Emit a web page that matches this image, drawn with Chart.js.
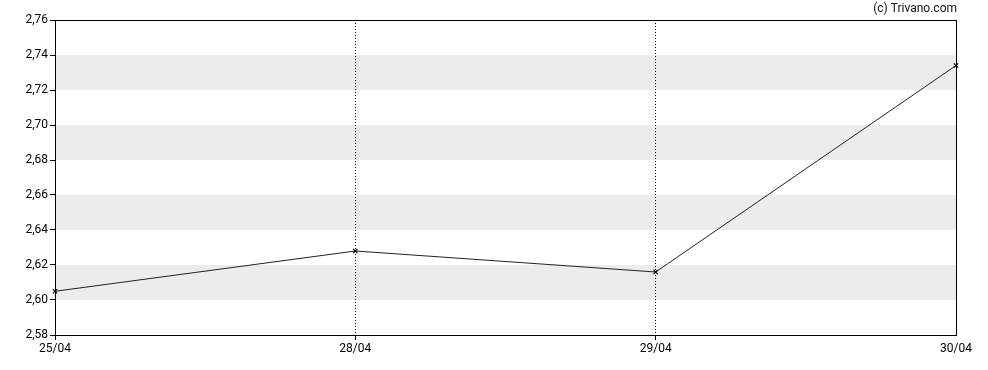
<!DOCTYPE html>
<html>
<head>
<meta charset="utf-8">
<script src="https://cdn.jsdelivr.net/npm/chart.js@4/dist/chart.umd.min.js"></script>
<style>
html,body{margin:0;padding:0;background:#fff;}
#wrap{position:relative;width:988px;height:370px;}
</style>
</head>
<body>
<div id="wrap"><canvas id="c" width="988" height="370"></canvas></div>
<script>
const categories = ["25/04", "28/04", "29/04", "30/04"];
const prices = [2.605, 2.628, 2.616, 2.734];
const yMin = 2.58, yMax = 2.76, yStep = 0.02;
const bands = [[2.60, 2.62], [2.64, 2.66], [2.68, 2.70], [2.72, 2.74]];
const credit = "(c) Trivano.com";

const FONT = "Roboto, 'Liberation Sans', sans-serif";

const decor = {
  id: 'decor',
  beforeDraw(chart) {
    const {ctx, chartArea: a, scales: {y}} = chart;
    ctx.save();
    ctx.fillStyle = '#ececec';
    bands.forEach(([lo, hi]) => {
      const t = y.getPixelForValue(hi), b = y.getPixelForValue(lo);
      ctx.fillRect(a.left, t, a.right - a.left, b - t);
    });
    ctx.restore();
  },
  afterDraw(chart) {
    const {ctx, chartArea: a} = chart;
    ctx.save();
    ctx.setLineDash([]);
    ctx.strokeStyle = '#000';
    ctx.lineWidth = 1;
    ctx.strokeRect(Math.round(a.left) + 0.5, Math.round(a.top) + 0.5, Math.round(a.right - a.left), Math.round(a.bottom - a.top));
    ctx.fillStyle = '#111';
    ctx.font = "12px " + FONT;
    ctx.textAlign = 'right';
    ctx.textBaseline = 'middle';
    ctx.fillText(credit, a.right + 1, 9);
    ctx.restore();
  }
};

new Chart(document.getElementById('c'), {
  type: 'line',
  data: {
    labels: categories,
    datasets: [{
      data: prices,
      borderColor: '#222',
      borderWidth: 1,
      pointStyle: 'crossRot',
      pointRadius: 3,
      pointBorderColor: '#000',
      pointBorderWidth: 1.2,
      tension: 0,
      fill: false
    }]
  },
  options: {
    responsive: false,
    animation: false,
    devicePixelRatio: 1,
    layout: {padding: {top: 20, right: 32, left: 0, bottom: 0}},
    plugins: {legend: {display: false}, tooltip: {enabled: false}},
    scales: {
      x: {
        type: 'category',
        offset: false,
        border: {display: true, color: '#000', width: 1, dash: [1, 2]},
        grid: {
          display: true,
          drawOnChartArea: true,
          color: (c) => (c.index === 0 || c.index === categories.length - 1) ? 'rgba(0,0,0,0)' : '#000',
          tickBorderDash: [],
          tickColor: (c) => c.index === categories.length - 1 ? 'rgba(0,0,0,0)' : '#000',
          tickLength: 5,
          lineWidth: 1
        },
        ticks: {color: '#000', font: {family: FONT, size: 12}, padding: 2, maxRotation: 0, autoSkip: false},
        afterFit(s) { s.height = 35; }
      },
      y: {
        min: yMin, max: yMax,
        border: {display: true, color: '#000', width: 1},
        grid: {drawOnChartArea: false, drawTicks: true, tickLength: 5, tickColor: '#000'},
        ticks: {
          stepSize: yStep,
          color: '#000',
          font: {family: FONT, size: 12},
          padding: 2,
          callback: (v) => Number(v).toFixed(2).replace('.', ',')
        },
        afterFit(s) { s.width = 55; }
      }
    }
  },
  plugins: [decor]
});
</script>
</body>
</html>
